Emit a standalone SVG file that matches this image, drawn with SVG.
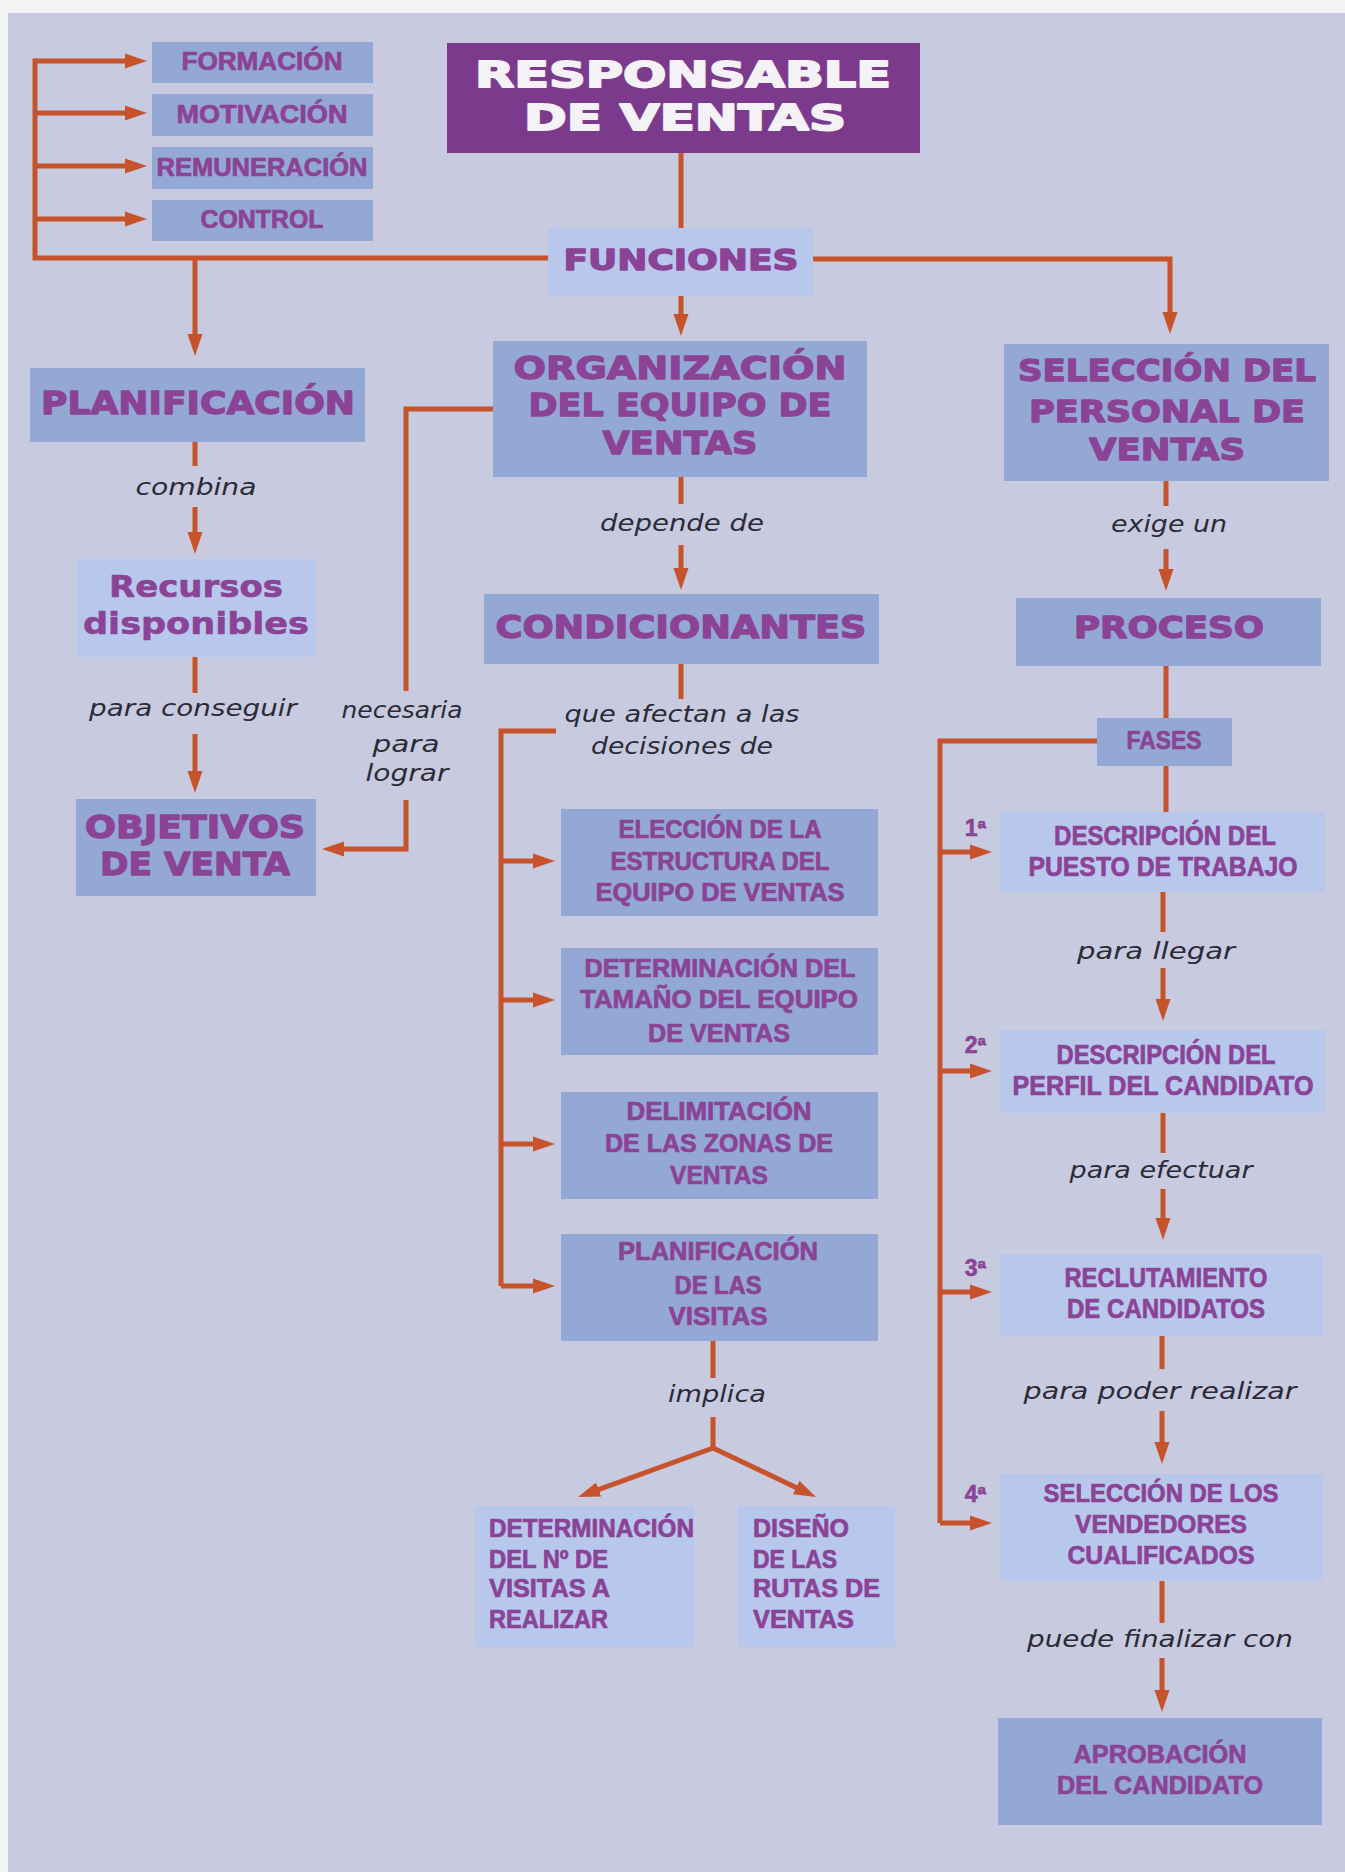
<svg xmlns="http://www.w3.org/2000/svg" width="1345" height="1872" viewBox="0 0 1345 1872">
  <defs>
    <style>
      .page{fill:#c8cadf}
      .dk{fill:#94a8d5}
      .lt{fill:#b8c8ed}
      .ttl{fill:#7c3a8c}
      .hv{font-family:"DejaVu Sans",Verdana,sans-serif;font-weight:bold;fill:#8b4396;stroke:#8b4396;stroke-width:1.3;stroke-linejoin:round;text-anchor:middle}
      .hvl{font-family:"DejaVu Sans",Verdana,sans-serif;font-weight:bold;fill:#8b4396;stroke:#8b4396;stroke-width:0.6;stroke-linejoin:round;text-anchor:middle}
      .hvw{font-family:"DejaVu Sans",Verdana,sans-serif;font-weight:bold;fill:#f4f2f7;stroke:#f4f2f7;stroke-width:1.8;stroke-linejoin:round;text-anchor:middle}
      .cd{font-family:"Liberation Sans",Arial,sans-serif;font-weight:bold;fill:#8b4396;stroke:#8b4396;stroke-width:0.7;stroke-linejoin:round;text-anchor:middle}
      .cdl{font-family:"Liberation Sans",Arial,sans-serif;font-weight:bold;fill:#8b4396;stroke:#8b4396;stroke-width:0.7;stroke-linejoin:round;text-anchor:start}
      .ord{font-family:"Liberation Sans",Arial,sans-serif;font-weight:bold;fill:#8b4396;stroke:#8b4396;stroke-width:0.6;text-anchor:end;font-size:23px}
      .it{font-family:"DejaVu Sans",Verdana,sans-serif;font-style:italic;fill:#2c2a36;text-anchor:middle;font-size:23px}
      .ln{fill:none;stroke:#c6532c;stroke-width:5;stroke-linejoin:miter}
      .ar{fill:none;stroke:#c6532c;stroke-width:5;marker-end:url(#ah)}
    </style>
    <marker id="ah" markerUnits="userSpaceOnUse" viewBox="0 0 22 16" markerWidth="22" markerHeight="16" refX="12" refY="8" orient="auto">
      <path d="M0,0.5 L22,8 L0,15.5 z" fill="#c6532c"/>
    </marker>
  </defs>

  <!-- page -->
  <rect x="0" y="0" width="1345" height="1872" fill="#f3f3f6"/>
  <rect class="page" x="8" y="13" width="1337" height="1859"/>

  <!-- connectors -->
  <g id="connectors">
    <path class="ln" d="M681,153 V228"/>
    <path class="ln" d="M548,258 H35 V58.5"/>
    <path class="ar" d="M35,61 H137"/>
    <path class="ar" d="M35,113 H137"/>
    <path class="ar" d="M35,166 H137"/>
    <path class="ar" d="M35,219 H137"/>
    <path class="ar" d="M195,258 V346"/>
    <path class="ar" d="M813,259 H1170 V324"/>
    <path class="ar" d="M681,296 V326"/>

    <path class="ln" d="M195,442 V466"/>
    <path class="ar" d="M195,507 V544"/>
    <path class="ln" d="M195,657 V693"/>
    <path class="ar" d="M195,734 V783"/>

    <path class="ln" d="M493,409 H406 V691"/>
    <path class="ar" d="M406,800 V849 H332"/>

    <path class="ln" d="M681,477 V504"/>
    <path class="ar" d="M681,545 V580"/>
    <path class="ln" d="M681,664 V699"/>

    <path class="ln" d="M556,731 H501 V1286"/>
    <path class="ar" d="M501,861 H545"/>
    <path class="ar" d="M501,1000 H545"/>
    <path class="ar" d="M501,1144 H545"/>
    <path class="ar" d="M501,1286 H545"/>

    <path class="ln" d="M713,1341 V1378"/>
    <path class="ln" d="M713,1417 V1448"/>
    <path class="ar" d="M713,1448 L587.4,1493.6"/>
    <path class="ar" d="M713,1448 L807,1492.7"/>

    <path class="ln" d="M1166,481 V506"/>
    <path class="ar" d="M1166,549 V581"/>
    <path class="ln" d="M1166,666 V718"/>
    <path class="ln" d="M1166,766 V812"/>

    <path class="ln" d="M1097,741 H940 V1523"/>
    <path class="ar" d="M940,852 H982"/>
    <path class="ar" d="M940,1071 H982"/>
    <path class="ar" d="M940,1292 H982"/>
    <path class="ar" d="M940,1523 H982"/>

    <path class="ln" d="M1163,892 V932"/>
    <path class="ar" d="M1163,968 V1011"/>
    <path class="ln" d="M1163,1113 V1153"/>
    <path class="ar" d="M1163,1189 V1230"/>
    <path class="ln" d="M1162,1336 V1369"/>
    <path class="ar" d="M1162,1411 V1454"/>
    <path class="ln" d="M1162,1581 V1623"/>
    <path class="ar" d="M1162,1658 V1702"/>
  </g>

  <!-- connector labels -->
  <g id="labels">
    <text class="it" x="196" y="495" textLength="121" lengthAdjust="spacingAndGlyphs">combina</text>
    <text class="it" x="193" y="716" textLength="208" lengthAdjust="spacingAndGlyphs">para conseguir</text>
    <text class="it" x="402" y="718" textLength="121" lengthAdjust="spacingAndGlyphs">necesaria</text>
    <text class="it" x="406" y="752" textLength="67" lengthAdjust="spacingAndGlyphs">para</text>
    <text class="it" x="407" y="781" textLength="83" lengthAdjust="spacingAndGlyphs">lograr</text>
    <text class="it" x="682" y="531" textLength="164" lengthAdjust="spacingAndGlyphs">depende de</text>
    <text class="it" x="682" y="722" textLength="235" lengthAdjust="spacingAndGlyphs">que afectan a las</text>
    <text class="it" x="682" y="754" textLength="182" lengthAdjust="spacingAndGlyphs">decisiones de</text>
    <text class="it" x="1169" y="532" textLength="116" lengthAdjust="spacingAndGlyphs">exige un</text>
    <text class="it" x="1156" y="959" textLength="158" lengthAdjust="spacingAndGlyphs">para llegar</text>
    <text class="it" x="1161" y="1178" textLength="183" lengthAdjust="spacingAndGlyphs">para efectuar</text>
    <text class="it" x="717" y="1402" textLength="98" lengthAdjust="spacingAndGlyphs">implica</text>
    <text class="it" x="1160" y="1399" textLength="273" lengthAdjust="spacingAndGlyphs">para poder realizar</text>
    <text class="it" x="1160" y="1647" textLength="266" lengthAdjust="spacingAndGlyphs">puede finalizar con</text>
    <text class="ord" x="986" y="836">1ª</text>
    <text class="ord" x="986" y="1053">2ª</text>
    <text class="ord" x="986" y="1276">3ª</text>
    <text class="ord" x="986" y="1502">4ª</text>
  </g>

  <!-- nodes -->
  <g id="responsable">
    <rect class="ttl" x="447" y="43" width="473" height="110"/>
    <text class="hvw" x="683" y="87" font-size="35" textLength="416" lengthAdjust="spacingAndGlyphs">RESPONSABLE</text>
    <text class="hvw" x="685" y="130" font-size="35" textLength="322" lengthAdjust="spacingAndGlyphs">DE VENTAS</text>
  </g>
  <g id="funciones">
    <rect class="lt" x="548" y="228" width="265" height="68"/>
    <text class="hv" x="681" y="270" font-size="28" textLength="235" lengthAdjust="spacingAndGlyphs">FUNCIONES</text>
  </g>
  <g id="formacion">
    <rect class="dk" x="152" y="42" width="221" height="41"/>
    <text class="cd" x="262" y="70" font-size="25" textLength="161" lengthAdjust="spacingAndGlyphs">FORMACIÓN</text>
  </g>
  <g id="motivacion">
    <rect class="dk" x="152" y="94" width="221" height="42"/>
    <text class="cd" x="262" y="123" font-size="25" textLength="171" lengthAdjust="spacingAndGlyphs">MOTIVACIÓN</text>
  </g>
  <g id="remuneracion">
    <rect class="dk" x="152" y="147" width="221" height="42"/>
    <text class="cd" x="262" y="176" font-size="25" textLength="211" lengthAdjust="spacingAndGlyphs">REMUNERACIÓN</text>
  </g>
  <g id="control">
    <rect class="dk" x="152" y="200" width="221" height="41"/>
    <text class="cd" x="262" y="228" font-size="25" textLength="123" lengthAdjust="spacingAndGlyphs">CONTROL</text>
  </g>
  <g id="planificacion">
    <rect class="dk" x="30" y="368" width="335" height="74"/>
    <text class="hv" x="198" y="414" font-size="32" textLength="314" lengthAdjust="spacingAndGlyphs">PLANIFICACIÓN</text>
  </g>
  <g id="organizacion">
    <rect class="dk" x="493" y="341" width="374" height="136"/>
    <text class="hv" x="680" y="379" font-size="32" textLength="333" lengthAdjust="spacingAndGlyphs">ORGANIZACIÓN</text>
    <text class="hv" x="680" y="416" font-size="32" textLength="303" lengthAdjust="spacingAndGlyphs">DEL EQUIPO DE</text>
    <text class="hv" x="680" y="454" font-size="32" textLength="155" lengthAdjust="spacingAndGlyphs">VENTAS</text>
  </g>
  <g id="seleccion-personal">
    <rect class="dk" x="1004" y="344" width="325" height="137"/>
    <text class="hv" x="1167" y="381" font-size="31" textLength="298" lengthAdjust="spacingAndGlyphs">SELECCIÓN DEL</text>
    <text class="hv" x="1167" y="422" font-size="31" textLength="276" lengthAdjust="spacingAndGlyphs">PERSONAL DE</text>
    <text class="hv" x="1167" y="460" font-size="31" textLength="156" lengthAdjust="spacingAndGlyphs">VENTAS</text>
  </g>
  <g id="recursos">
    <rect class="lt" x="77" y="559" width="239" height="98"/>
    <text class="hvl" x="196" y="597" font-size="31" textLength="174" lengthAdjust="spacingAndGlyphs">Recursos</text>
    <text class="hvl" x="196" y="634" font-size="31" textLength="226" lengthAdjust="spacingAndGlyphs">disponibles</text>
  </g>
  <g id="condicionantes">
    <rect class="dk" x="484" y="594" width="395" height="70"/>
    <text class="hv" x="681" y="638" font-size="32" textLength="371" lengthAdjust="spacingAndGlyphs">CONDICIONANTES</text>
  </g>
  <g id="proceso">
    <rect class="dk" x="1016" y="598" width="305" height="68"/>
    <text class="hv" x="1169" y="638" font-size="30" textLength="190" lengthAdjust="spacingAndGlyphs">PROCESO</text>
  </g>
  <g id="objetivos">
    <rect class="dk" x="76" y="799" width="240" height="97"/>
    <text class="hv" x="195" y="838" font-size="32" textLength="220" lengthAdjust="spacingAndGlyphs">OBJETIVOS</text>
    <text class="hv" x="195" y="875" font-size="32" textLength="190" lengthAdjust="spacingAndGlyphs">DE VENTA</text>
  </g>
  <g id="fases">
    <rect class="dk" x="1097" y="718" width="135" height="48"/>
    <text class="cd" x="1164" y="749" font-size="26" textLength="75" lengthAdjust="spacingAndGlyphs">FASES</text>
  </g>
  <g id="eleccion-estructura">
    <rect class="dk" x="561" y="809" width="317" height="107"/>
    <text class="cd" x="720" y="838" font-size="25" textLength="203" lengthAdjust="spacingAndGlyphs">ELECCIÓN DE LA</text>
    <text class="cd" x="720" y="870" font-size="25" textLength="219" lengthAdjust="spacingAndGlyphs">ESTRUCTURA DEL</text>
    <text class="cd" x="720" y="901" font-size="25" textLength="249" lengthAdjust="spacingAndGlyphs">EQUIPO DE VENTAS</text>
  </g>
  <g id="determinacion-tamano">
    <rect class="dk" x="561" y="948" width="317" height="107"/>
    <text class="cd" x="720" y="977" font-size="25" textLength="271" lengthAdjust="spacingAndGlyphs">DETERMINACIÓN DEL</text>
    <text class="cd" x="719" y="1008" font-size="25" textLength="278" lengthAdjust="spacingAndGlyphs">TAMAÑO DEL EQUIPO</text>
    <text class="cd" x="719" y="1042" font-size="25" textLength="142" lengthAdjust="spacingAndGlyphs">DE VENTAS</text>
  </g>
  <g id="delimitacion-zonas">
    <rect class="dk" x="561" y="1092" width="317" height="107"/>
    <text class="cd" x="719" y="1120" font-size="25" textLength="185" lengthAdjust="spacingAndGlyphs">DELIMITACIÓN</text>
    <text class="cd" x="719" y="1152" font-size="25" textLength="228" lengthAdjust="spacingAndGlyphs">DE LAS ZONAS DE</text>
    <text class="cd" x="719" y="1184" font-size="25" textLength="98" lengthAdjust="spacingAndGlyphs">VENTAS</text>
  </g>
  <g id="planificacion-visitas">
    <rect class="dk" x="561" y="1234" width="317" height="107"/>
    <text class="cd" x="718" y="1260" font-size="25" textLength="200" lengthAdjust="spacingAndGlyphs">PLANIFICACIÓN</text>
    <text class="cd" x="718" y="1294" font-size="25" textLength="87" lengthAdjust="spacingAndGlyphs">DE LAS</text>
    <text class="cd" x="718" y="1325" font-size="25" textLength="99" lengthAdjust="spacingAndGlyphs">VISITAS</text>
  </g>
  <g id="descripcion-puesto">
    <rect class="lt" x="1000" y="812" width="325" height="80"/>
    <text class="cd" x="1165" y="845" font-size="27" textLength="222" lengthAdjust="spacingAndGlyphs">DESCRIPCIÓN DEL</text>
    <text class="cd" x="1163" y="876" font-size="27" textLength="269" lengthAdjust="spacingAndGlyphs">PUESTO DE TRABAJO</text>
  </g>
  <g id="descripcion-perfil">
    <rect class="lt" x="1000" y="1030" width="325" height="83"/>
    <text class="cd" x="1166" y="1064" font-size="27" textLength="219" lengthAdjust="spacingAndGlyphs">DESCRIPCIÓN DEL</text>
    <text class="cd" x="1163" y="1095" font-size="27" textLength="301" lengthAdjust="spacingAndGlyphs">PERFIL DEL CANDIDATO</text>
  </g>
  <g id="reclutamiento">
    <rect class="lt" x="1000" y="1254" width="323" height="82"/>
    <text class="cd" x="1166" y="1287" font-size="27" textLength="203" lengthAdjust="spacingAndGlyphs">RECLUTAMIENTO</text>
    <text class="cd" x="1166" y="1318" font-size="27" textLength="198" lengthAdjust="spacingAndGlyphs">DE CANDIDATOS</text>
  </g>
  <g id="seleccion-vendedores">
    <rect class="lt" x="1000" y="1474" width="323" height="107"/>
    <text class="cd" x="1161" y="1502" font-size="26" textLength="235" lengthAdjust="spacingAndGlyphs">SELECCIÓN DE LOS</text>
    <text class="cd" x="1161" y="1533" font-size="26" textLength="172" lengthAdjust="spacingAndGlyphs">VENDEDORES</text>
    <text class="cd" x="1161" y="1564" font-size="26" textLength="187" lengthAdjust="spacingAndGlyphs">CUALIFICADOS</text>
  </g>
  <g id="aprobacion">
    <rect class="dk" x="998" y="1718" width="324" height="107"/>
    <text class="cd" x="1160" y="1763" font-size="26" textLength="173" lengthAdjust="spacingAndGlyphs">APROBACIÓN</text>
    <text class="cd" x="1160" y="1794" font-size="26" textLength="206" lengthAdjust="spacingAndGlyphs">DEL CANDIDATO</text>
  </g>
  <g id="determinacion-visitas">
    <rect class="lt" x="475" y="1506" width="219" height="141"/>
    <text class="cdl" x="489" y="1537" font-size="25" textLength="205" lengthAdjust="spacingAndGlyphs">DETERMINACIÓN</text>
    <text class="cdl" x="489" y="1568" font-size="25" textLength="119" lengthAdjust="spacingAndGlyphs">DEL Nº DE</text>
    <text class="cdl" x="489" y="1597" font-size="25" textLength="121" lengthAdjust="spacingAndGlyphs">VISITAS A</text>
    <text class="cdl" x="489" y="1628" font-size="25" textLength="119" lengthAdjust="spacingAndGlyphs">REALIZAR</text>
  </g>
  <g id="diseno-rutas">
    <rect class="lt" x="738" y="1506" width="157" height="141"/>
    <text class="cdl" x="753" y="1537" font-size="25" textLength="96" lengthAdjust="spacingAndGlyphs">DISEÑO</text>
    <text class="cdl" x="753" y="1568" font-size="25" textLength="84" lengthAdjust="spacingAndGlyphs">DE LAS</text>
    <text class="cdl" x="753" y="1597" font-size="25" textLength="127" lengthAdjust="spacingAndGlyphs">RUTAS DE</text>
    <text class="cdl" x="753" y="1628" font-size="25" textLength="101" lengthAdjust="spacingAndGlyphs">VENTAS</text>
  </g>
</svg>
